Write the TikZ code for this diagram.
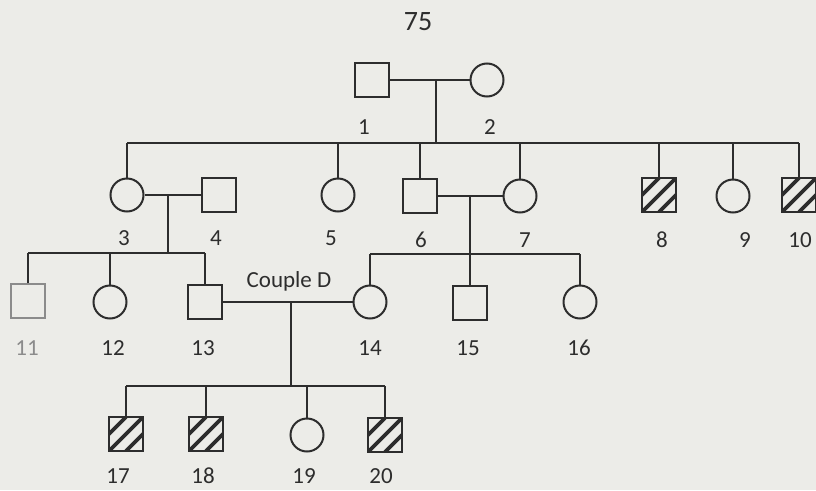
\documentclass[tikz,border=0pt]{standalone}
\usepackage{fontspec}
\setmainfont{Carlito}
\definecolor{paper}{RGB}{236,236,232}
\definecolor{ink}{RGB}{45,45,45}
\begin{document}
\begin{tikzpicture}[x=1pt,y=-1pt,
  line width=2pt, draw=ink,
  sq/.style={draw=ink, rectangle, minimum size=34pt, inner sep=0pt},
  ci/.style={draw=ink, circle, minimum size=33pt, inner sep=0pt},
  hat/.style={sq, path picture={
     \foreach \o in {-0.5,0,0.5}{
       \draw[ink, line width=3.8pt]
         ([xshift=\o*34pt]path picture bounding box.south west) --
         ([xshift=\o*34pt]path picture bounding box.north east);}}},
  lab/.style={text=ink, font=\fontsize{23}{26}\selectfont, inner sep=0pt}]
\fill[paper] (0,0) rectangle (816,490);
\useasboundingbox (0,0) rectangle (816,490);

\node[lab, font=\fontsize{28}{32}\selectfont] (t75) at (418,22) {75};

% generation I
\node[sq] (n1) at (372,80) {};
\node[ci] (n2) at (487,80) {};
\draw (n1.east) -- (n2.west);
\coordinate (c12) at (436,80);
\coordinate (s1) at (436,143);
\draw (c12) -- (s1);

% generation II
\node[ci] (n3) at (127,195) {};
\node[sq] (n4) at (219,195) {};
\node[ci] (n5) at (338,195) {};
\node[sq] (n6) at (420,196) {};
\node[ci] (n7) at (520,196) {};
\node[hat] (n8) at (659,195) {};
\node[ci] (n9) at (733,196) {};
\node[hat] (n10) at (799,195) {};
\draw (n3.north |- s1) -- (n10.north |- s1);
\foreach \n in {n3,n5,n6,n7,n8,n9,n10}{\draw (\n.north) -- (\n.north |- s1);}
\draw (n3.east) -- (n4.west);
\draw (n6.east) -- (n7.west);

% generation III
\coordinate (c34) at (168,195);
\coordinate (s2) at (168,253);
\draw (c34) -- (s2);
\coordinate (c67) at (470,196);
\coordinate (s3) at (470,254);
\draw (c67) -- (s3);
\node[sq, draw=ink!55] (n11) at (28,301) {};
\node[ci] (n12) at (110,302) {};
\node[sq] (n13) at (205,302) {};
\node[ci] (n14) at (370,302) {};
\node[sq] (n15) at (470,303) {};
\node[ci] (n16) at (580,302) {};
\draw (n11.north |- s2) -- (n13.north |- s2);
\foreach \n in {n11,n12,n13}{\draw (\n.north) -- (\n.north |- s2);}
\draw (n14.north |- s3) -- (n16.north |- s3);
\foreach \n in {n14,n15,n16}{\draw (\n.north) -- (\n.north |- s3);}
\draw (n13.east) -- (n14.west);
\node[lab] (cd) at (289,281) {Couple D};

% generation IV
\coordinate (cD) at (291,302);
\coordinate (s4) at (291,386);
\draw (cD) -- (s4);
\node[hat] (n17) at (126,434) {};
\node[hat] (n18) at (206,434) {};
\node[ci] (n19) at (307,435) {};
\node[hat] (n20) at (385,435) {};
\draw (n17.north |- s4) -- (n20.north |- s4);
\foreach \n in {n17,n18,n19,n20}{\draw (\n.north) -- (\n.north |- s4);}

% labels
\node[lab] (l1) at (364,127) {1};
\node[lab] (l2) at (490,127) {2};
\node[lab] (l3) at (124,238) {3};
\node[lab] (l4) at (216,238) {4};
\node[lab] (l5) at (331,238) {5};
\node[lab] (l6) at (421,240) {6};
\node[lab] (l7) at (525,240) {7};
\node[lab] (l8) at (662,240) {8};
\node[lab] (l9) at (745,240) {9};
\node[lab] (l10) at (800,240) {10};
\node[lab, text=ink!55] (l11) at (27,348) {11};
\node[lab] (l12) at (113,348) {12};
\node[lab] (l13) at (203,348) {13};
\node[lab] (l14) at (370,348) {14};
\node[lab] (l15) at (468,348) {15};
\node[lab] (l16) at (579,348) {16};
\node[lab] (l17) at (118,476) {17};
\node[lab] (l18) at (203,476) {18};
\node[lab] (l19) at (304,476) {19};
\node[lab] (l20) at (381,476) {20};
\end{tikzpicture}
\end{document}
